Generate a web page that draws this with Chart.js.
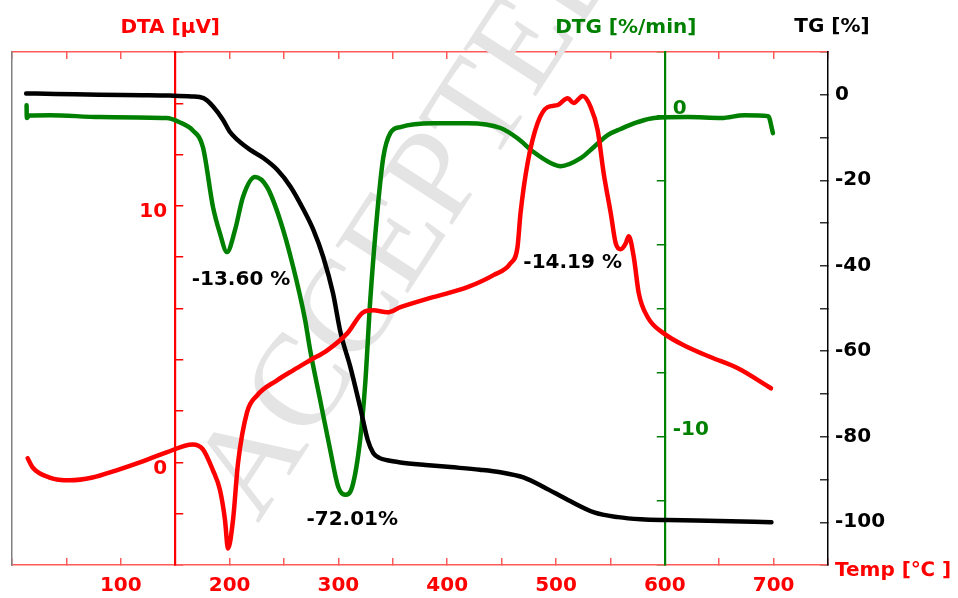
<!DOCTYPE html>
<html>
<head>
<meta charset="utf-8">
<script src="https://cdn.jsdelivr.net/npm/chart.js@4.4.1/dist/chart.umd.min.js"></script>
<style>
  html, body { margin: 0; padding: 0; background: #fff; }
  #wrap { width: 958px; height: 598px; position: relative; }
</style>
</head>
<body>
<div id="wrap"><canvas id="taChart"></canvas></div>
<script>
// TG curve [%] vs temperature [°C]
const tgTemp = [13, 40, 80, 120, 145, 165, 176, 185, 194, 200, 207, 219, 231, 244, 256, 268, 277, 286, 295, 302, 311, 320, 327, 332, 338, 345, 357, 380, 403, 430, 449, 470, 489, 511, 535, 557, 578, 603, 650, 698];
const tgValues = [0.3, 0.2, 0, -0.1, -0.2, -0.4, -0.8, -2.8, -5.9, -8.6, -10.5, -12.9, -14.8, -17.6, -21.5, -26.9, -31.6, -37.9, -46.4, -55.7, -63.7, -73.1, -80.8, -83.8, -85, -85.5, -86, -86.6, -87.1, -87.7, -88.3, -89.5, -91.8, -94.8, -97.7, -98.8, -99.3, -99.5, -99.7, -100];

// DTG curve [%/min]
const dtgTemp = [13.4, 13.6, 16, 35, 81, 142, 154, 166, 175.5, 184.7, 191, 197.6, 205, 212.3, 223.4, 234.4, 246.4, 258.4, 269.4, 274, 283.2, 292.4, 299.8, 306.3, 312.7, 320, 324.7, 329.3, 335.7, 341.3, 347.7, 357, 387, 419, 449, 464.6, 479.4, 495, 504.2, 522.7, 534.6, 547.5, 559.5, 575, 590, 621, 652, 673, 695, 699.4];
const dtgValues = [0.34, -0.06, 0.02, 0.03, -0.03, -0.06, -0.19, -0.44, -0.97, -2.83, -3.64, -4.24, -3.55, -2.52, -1.9, -2.21, -3.24, -4.7, -6.36, -7.29, -8.85, -10.4, -11.56, -11.81, -11.56, -10.09, -8.32, -5.73, -3.02, -1.28, -0.53, -0.34, -0.22, -0.22, -0.37, -0.69, -1.12, -1.46, -1.56, -1.31, -0.97, -0.59, -0.4, -0.19, -0.06, -0.03, -0.06, 0.03, 0, -0.53];

// DTA curve [µV]
const dtaTemp = [14.4, 19, 34.6, 53, 74, 96, 117.5, 142, 166, 175.5, 184.7, 191.2, 195.8, 198.5, 203.1, 207.7, 216, 225.2, 243.6, 258.4, 274, 289.7, 308.1, 322.8, 332, 344.9, 357, 387, 418.6, 442.5, 458.2, 464.6, 467.4, 473.9, 483.1, 492.3, 501.5, 510.7, 516.2, 524.5, 531.9, 538.3, 543.8, 550.3, 554.9, 559.5, 564.1, 566.9, 571.5, 576.1, 584.3, 599.1, 621.2, 642.4, 667.2, 697.6];
const dtaValues = [0.16, -0.2, -0.59, -0.7, -0.59, -0.31, 0, 0.39, 0.7, 0.51, -0.31, -1.09, -2.26, -3.36, -2.26, -0.04, 1.95, 2.61, 3.2, 3.59, 3.98, 4.37, 5.03, 5.85, 5.93, 5.85, 6.05, 6.44, 6.83, 7.3, 7.76, 8.39, 9.72, 11.67, 13.23, 13.85, 13.93, 14.2, 14.01, 14.28, 13.85, 12.95, 11.28, 9.72, 8.54, 8.31, 8.54, 8.82, 8.0, 6.59, 5.66, 5.03, 4.49, 4.1, 3.67, 2.89];

// labelled ticks
const tempTicks = [100, 200, 300, 400, 500, 600, 700];
const tgTicks = [0, -20, -40, -60, -80, -100];
const dtaTicks = [0, 10];
const dtgTicks = [0, -10];

// temperatures where the DTA and DTG axes cross the plot
const dtaAxisTemp = 150;
const dtgAxisTemp = 600;

// mass loss steps written on the plot
const stepLabels = ['-13.60 %', '-72.01%', '-14.19 %'];

const toPoints = (xs, ys) => xs.map((x, i) => ({ x: x, y: ys[i] }));

const FAMILY = '"DejaVu Sans", Verdana, sans-serif';
const tickFont = { family: FAMILY, size: 20, weight: 'bold' };
const RED = '#ff0000';
const GREEN = '#008000';

const onlyThese = (list) => (v) => (list.includes(v) ? v : '');

const textPlugin = {
  id: 'plotTexts',
  afterLayout(chart) {
    // move the DTA / DTG axes inside the plot, at their temperatures;
    // the boxes keep some width so their labels are not clipped
    const x = chart.scales.x;
    const a = x.getPixelForValue(dtaAxisTemp);
    const g = x.getPixelForValue(dtgAxisTemp);
    chart.scales.dta.left = a - 70;
    chart.scales.dta.right = a;
    chart.scales.dtg.left = g;
    chart.scales.dtg.right = g + 70;
  },
  beforeDatasetsDraw(chart) {
    // faint watermark of the source manuscript
    const { ctx } = chart;
    ctx.save();
    ctx.translate(258, 524);
    ctx.rotate(-57 * Math.PI / 180);
    ctx.font = '132px "Liberation Serif", "Times New Roman", serif';
    ctx.fillStyle = '#e4e4e4';
    ctx.fillText('ACCEPTED MANUSCRIPT', 0, 0);
    ctx.restore();
  },
  afterDraw(chart) {
    const { ctx, chartArea, scales } = chart;
    const x = scales.x, tg = scales.tg;
    ctx.save();
    ctx.font = 'bold 20px ' + FAMILY;
    ctx.textAlign = 'center';
    ctx.textBaseline = 'middle';

    ctx.fillStyle = RED;
    ctx.fillText('DTA [μV]', x.getPixelForValue(dtaAxisTemp) - 5, chartArea.top - 24);
    ctx.fillStyle = GREEN;
    ctx.fillText('DTG [%/min]', x.getPixelForValue(dtgAxisTemp) - 39, chartArea.top - 24);
    ctx.fillStyle = '#000';
    ctx.fillText('TG [%]', chartArea.right + 4, chartArea.top - 25);
    ctx.textAlign = 'left';
    ctx.fillStyle = RED;
    ctx.fillText('Temp [℃ ]', chartArea.right + 7, chartArea.bottom + 6);

    ctx.textAlign = 'center';
    ctx.fillStyle = '#000';
    ctx.fillText(stepLabels[0], x.getPixelForValue(210.5), tg.getPixelForValue(-43.3));
    ctx.fillText(stepLabels[1], x.getPixelForValue(312.7), tg.getPixelForValue(-99.5));
    ctx.fillText(stepLabels[2], x.getPixelForValue(515.3), tg.getPixelForValue(-39.3));
    ctx.restore();
  }
};

const lineStyle = {
  type: 'line',
  borderWidth: 4.5,
  pointRadius: 0,
  pointHoverRadius: 0,
  fill: false,
  cubicInterpolationMode: 'monotone',
  borderCapStyle: 'round',
  borderJoinStyle: 'round',
  xAxisID: 'x'
};

new Chart(document.getElementById('taChart'), {
  type: 'line',
  data: {
    datasets: [
      Object.assign({}, lineStyle, { label: 'DTA', data: toPoints(dtaTemp, dtaValues), borderColor: RED, yAxisID: 'dta' }),
      Object.assign({}, lineStyle, { label: 'TG', data: toPoints(tgTemp, tgValues), borderColor: '#000000', yAxisID: 'tg' }),
      Object.assign({}, lineStyle, { label: 'DTG', data: toPoints(dtgTemp, dtgValues), borderColor: GREEN, yAxisID: 'dtg' })
    ]
  },
  options: {
    responsive: true,
    maintainAspectRatio: false,
    animation: false,
    events: [],
    layout: { padding: { top: 52, left: 12, right: 0, bottom: 0 } },
    plugins: { legend: { display: false }, tooltip: { enabled: false } },
    scales: {
      x: {
        type: 'linear', position: 'bottom', min: 0, max: 750,
        afterFit: (s) => { s.height = 33; },
        ticks: { stepSize: 50, autoSkip: false, maxRotation: 0, padding: 12, color: RED,
                 font: Object.assign({}, tickFont, { lineHeight: 1.6 }), callback: onlyThese(tempTicks) },
        grid: { drawOnChartArea: false, tickLength: -7, color: '#ff5a5a', lineWidth: 1.5 },
        border: { color: '#ff5a5a', width: 1.5 }
      },
      xTop: {
        type: 'linear', position: 'top', min: 0, max: 750,
        afterFit: (s) => { s.height = 0; },
        ticks: { stepSize: 50, display: false },
        grid: { drawOnChartArea: false, tickLength: -7, color: '#ff5a5a', lineWidth: 1.5 },
        border: { color: '#ff5a5a', width: 1.5 }
      },
      yLeft: {
        type: 'linear', axis: 'y', position: 'left', min: 0, max: 1,
        afterFit: (s) => { s.width = 0; },
        ticks: { display: false },
        grid: { display: false },
        border: { color: '#808080', width: 1.5 }
      },
      dta: {
        type: 'linear', axis: 'y', position: 'left', min: -4, max: 16,
        afterFit: (s) => { s.width = 0; },
        ticks: { stepSize: 2, autoSkip: false, padding: 16, labelOffset: 6, color: RED, font: tickFont, callback: onlyThese(dtaTicks) },
        grid: { drawOnChartArea: false, tickLength: -8, color: RED, lineWidth: 1.5 },
        border: { color: RED, width: 2.2 }
      },
      tg: {
        type: 'linear', axis: 'y', position: 'right', min: -110, max: 10,
        afterFit: (s) => { s.width = 130; },
        ticks: { stepSize: 10, autoSkip: false, padding: 15, color: '#000', font: tickFont, callback: onlyThese(tgTicks) },
        grid: { drawOnChartArea: false, tickLength: -8, color: '#333', lineWidth: 1.5 },
        border: { color: '#000', width: 1.5 }
      },
      dtg: {
        type: 'linear', axis: 'y', position: 'right', min: -14, max: 2,
        afterFit: (s) => { s.width = 0; },
        ticks: { stepSize: 2, autoSkip: false, padding: 16, labelOffset: -7, color: GREEN, font: tickFont, callback: onlyThese(dtgTicks) },
        grid: { drawOnChartArea: false, tickLength: -8, color: GREEN, lineWidth: 1.5 },
        border: { color: GREEN, width: 2.2 }
      }
    }
  },
  plugins: [textPlugin]
});
</script>
</body>
</html>
